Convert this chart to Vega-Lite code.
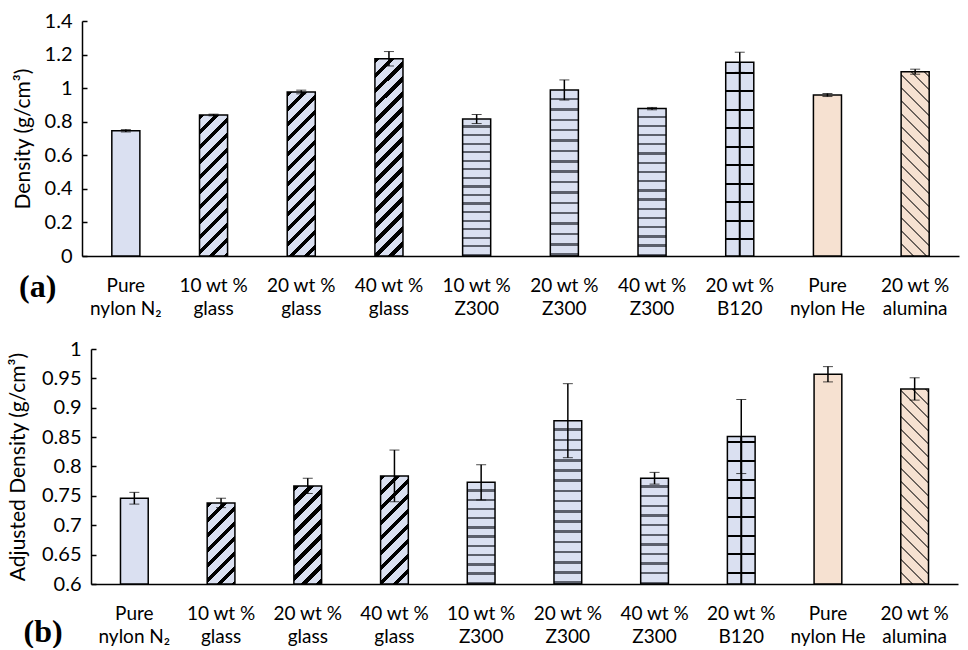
{
  "$schema": "https://vega.github.io/schema/vega-lite/v6.json",
  "padding": {"left": 7, "top": 11, "right": 3, "bottom": 0},
  "background": "white",
  "columns": 1,
  "align": "none",
  "spacing": 21,
  "config": {
    "view": {"stroke": null},
    "axis": {"labelFont": "Lato", "titleFont": "Lato", "labelColor": "#000", "titleColor": "#000", "domainColor": "#000", "tickColor": "#000", "grid": false, "titleFontWeight": "normal", "domainWidth": 1.5, "tickWidth": 1.5}
  },
  "datasets": {
    "a": [
      {"cat": "Pure|nylon N₂", "v": 0.746, "e": 0.007},
      {"cat": "10 wt %|glass", "v": 0.840, "e": 0.005},
      {"cat": "20 wt %|glass", "v": 0.977, "e": 0.011},
      {"cat": "40 wt %|glass", "v": 1.175, "e": 0.043},
      {"cat": "10 wt %|Z300", "v": 0.816, "e": 0.027},
      {"cat": "20 wt %|Z300", "v": 0.989, "e": 0.060},
      {"cat": "40 wt %|Z300", "v": 0.878, "e": 0.007},
      {"cat": "20 wt %|B120", "v": 1.154, "e": 0.060},
      {"cat": "Pure|nylon He", "v": 0.959, "e": 0.009},
      {"cat": "20 wt %|alumina", "v": 1.098, "e": 0.015}
    ],
    "b": [
      {"cat": "Pure|nylon N₂", "v": 0.746, "e": 0.010},
      {"cat": "10 wt %|glass", "v": 0.738, "e": 0.008},
      {"cat": "20 wt %|glass", "v": 0.767, "e": 0.013},
      {"cat": "40 wt %|glass", "v": 0.784, "e": 0.044},
      {"cat": "10 wt %|Z300", "v": 0.773, "e": 0.030},
      {"cat": "20 wt %|Z300", "v": 0.878, "e": 0.063},
      {"cat": "40 wt %|Z300", "v": 0.780, "e": 0.010},
      {"cat": "20 wt %|B120", "v": 0.851, "e": 0.063},
      {"cat": "Pure|nylon He", "v": 0.957, "e": 0.013},
      {"cat": "20 wt %|alumina", "v": 0.932, "e": 0.019}
    ]
  },
  "concat": [
    {
      "width": 868,
      "height": 235,
      "data": {"name": "a"},
      "title": {"text": "(a)", "orient": "bottom", "anchor": "start", "frame": "bounds", "font": "Liberation Serif", "fontWeight": "bold", "fontSize": 32, "offset": -46, "dx": 7, "color": "#000"},
      "encoding": {
        "x": {"field": "cat", "type": "nominal", "sort": null, "scale": {"paddingInner": 0.68, "paddingOuter": 0.34, "range": [-9, 868]}, "axis": {"title": null, "labelAngle": 0, "ticks": false, "labelExpr": "split(datum.label, '|')", "labelFontSize": 19, "labelLineHeight": 23, "labelPadding": 20}},
        "y": {"field": "v", "type": "quantitative", "scale": {"domain": [0, 1.4], "nice": false}, "axis": {"title": "Density (g/cm³)", "values": [0, 0.2, 0.4, 0.6, 0.8, 1, 1.2, 1.4], "format": ".1~f", "offset": 9, "tickSize": -5, "labelPadding": 15, "labelFontSize": 20, "titleFontSize": 21, "titlePadding": 11}}
      },
      "layer": [
        {
          "mark": {"type": "bar", "stroke": "#000", "strokeWidth": 1.5},
          "encoding": {
            "fill": {
              "condition": [
                {"test": "datum.cat === '10 wt %|glass'", "value": {"gradient": "linear", "x1": 0, "y1": 0, "x2": 0.2439, "y2": 1.2281, "stops": [
                  {"offset": 0, "color": "#000"}, {"offset": 0.0292, "color": "#000"}, {"offset": 0.0292, "color": "#dae0f1"}, {"offset": 0.0833, "color": "#dae0f1"},
                  {"offset": 0.0833, "color": "#000"}, {"offset": 0.1125, "color": "#000"}, {"offset": 0.1125, "color": "#dae0f1"}, {"offset": 0.1667, "color": "#dae0f1"},
                  {"offset": 0.1667, "color": "#000"}, {"offset": 0.1958, "color": "#000"}, {"offset": 0.1958, "color": "#dae0f1"}, {"offset": 0.25, "color": "#dae0f1"},
                  {"offset": 0.25, "color": "#000"}, {"offset": 0.2792, "color": "#000"}, {"offset": 0.2792, "color": "#dae0f1"}, {"offset": 0.3333, "color": "#dae0f1"},
                  {"offset": 0.3333, "color": "#000"}, {"offset": 0.3625, "color": "#000"}, {"offset": 0.3625, "color": "#dae0f1"}, {"offset": 0.4167, "color": "#dae0f1"},
                  {"offset": 0.4167, "color": "#000"}, {"offset": 0.4458, "color": "#000"}, {"offset": 0.4458, "color": "#dae0f1"}, {"offset": 0.5, "color": "#dae0f1"},
                  {"offset": 0.5, "color": "#000"}, {"offset": 0.5292, "color": "#000"}, {"offset": 0.5292, "color": "#dae0f1"}, {"offset": 0.5833, "color": "#dae0f1"},
                  {"offset": 0.5833, "color": "#000"}, {"offset": 0.6125, "color": "#000"}, {"offset": 0.6125, "color": "#dae0f1"}, {"offset": 0.6667, "color": "#dae0f1"},
                  {"offset": 0.6667, "color": "#000"}, {"offset": 0.6958, "color": "#000"}, {"offset": 0.6958, "color": "#dae0f1"}, {"offset": 0.75, "color": "#dae0f1"},
                  {"offset": 0.75, "color": "#000"}, {"offset": 0.7792, "color": "#000"}, {"offset": 0.7792, "color": "#dae0f1"}, {"offset": 0.8333, "color": "#dae0f1"},
                  {"offset": 0.8333, "color": "#000"}, {"offset": 0.8625, "color": "#000"}, {"offset": 0.8625, "color": "#dae0f1"}, {"offset": 0.9167, "color": "#dae0f1"},
                  {"offset": 0.9167, "color": "#000"}, {"offset": 0.9458, "color": "#000"}, {"offset": 0.9458, "color": "#dae0f1"}, {"offset": 1, "color": "#dae0f1"}
                ]}},
                {"test": "datum.cat === '20 wt %|glass'", "value": {"gradient": "linear", "x1": 0, "y1": 0, "x2": 0.1973, "y2": 1.1554, "stops": [
                  {"offset": 0, "color": "#000"}, {"offset": 0.0269, "color": "#000"}, {"offset": 0.0269, "color": "#dae0f1"}, {"offset": 0.0769, "color": "#dae0f1"},
                  {"offset": 0.0769, "color": "#000"}, {"offset": 0.1038, "color": "#000"}, {"offset": 0.1038, "color": "#dae0f1"}, {"offset": 0.1538, "color": "#dae0f1"},
                  {"offset": 0.1538, "color": "#000"}, {"offset": 0.1808, "color": "#000"}, {"offset": 0.1808, "color": "#dae0f1"}, {"offset": 0.2308, "color": "#dae0f1"},
                  {"offset": 0.2308, "color": "#000"}, {"offset": 0.2577, "color": "#000"}, {"offset": 0.2577, "color": "#dae0f1"}, {"offset": 0.3077, "color": "#dae0f1"},
                  {"offset": 0.3077, "color": "#000"}, {"offset": 0.3346, "color": "#000"}, {"offset": 0.3346, "color": "#dae0f1"}, {"offset": 0.3846, "color": "#dae0f1"},
                  {"offset": 0.3846, "color": "#000"}, {"offset": 0.4115, "color": "#000"}, {"offset": 0.4115, "color": "#dae0f1"}, {"offset": 0.4615, "color": "#dae0f1"},
                  {"offset": 0.4615, "color": "#000"}, {"offset": 0.4885, "color": "#000"}, {"offset": 0.4885, "color": "#dae0f1"}, {"offset": 0.5385, "color": "#dae0f1"},
                  {"offset": 0.5385, "color": "#000"}, {"offset": 0.5654, "color": "#000"}, {"offset": 0.5654, "color": "#dae0f1"}, {"offset": 0.6154, "color": "#dae0f1"},
                  {"offset": 0.6154, "color": "#000"}, {"offset": 0.6423, "color": "#000"}, {"offset": 0.6423, "color": "#dae0f1"}, {"offset": 0.6923, "color": "#dae0f1"},
                  {"offset": 0.6923, "color": "#000"}, {"offset": 0.7192, "color": "#000"}, {"offset": 0.7192, "color": "#dae0f1"}, {"offset": 0.7692, "color": "#dae0f1"},
                  {"offset": 0.7692, "color": "#000"}, {"offset": 0.7962, "color": "#000"}, {"offset": 0.7962, "color": "#dae0f1"}, {"offset": 0.8462, "color": "#dae0f1"},
                  {"offset": 0.8462, "color": "#000"}, {"offset": 0.8731, "color": "#000"}, {"offset": 0.8731, "color": "#dae0f1"}, {"offset": 0.9231, "color": "#dae0f1"},
                  {"offset": 0.9231, "color": "#000"}, {"offset": 0.95, "color": "#000"}, {"offset": 0.95, "color": "#dae0f1"}, {"offset": 1, "color": "#dae0f1"}
                ]}},
                {"test": "datum.cat === '40 wt %|glass'", "value": {"gradient": "linear", "x1": 0, "y1": 0, "x2": 0.1591, "y2": 1.1195, "stops": [
                  {"offset": 0, "color": "#000"}, {"offset": 0.0233, "color": "#000"}, {"offset": 0.0233, "color": "#dae0f1"}, {"offset": 0.0667, "color": "#dae0f1"},
                  {"offset": 0.0667, "color": "#000"}, {"offset": 0.09, "color": "#000"}, {"offset": 0.09, "color": "#dae0f1"}, {"offset": 0.1333, "color": "#dae0f1"},
                  {"offset": 0.1333, "color": "#000"}, {"offset": 0.1567, "color": "#000"}, {"offset": 0.1567, "color": "#dae0f1"}, {"offset": 0.2, "color": "#dae0f1"},
                  {"offset": 0.2, "color": "#000"}, {"offset": 0.2233, "color": "#000"}, {"offset": 0.2233, "color": "#dae0f1"}, {"offset": 0.2667, "color": "#dae0f1"},
                  {"offset": 0.2667, "color": "#000"}, {"offset": 0.29, "color": "#000"}, {"offset": 0.29, "color": "#dae0f1"}, {"offset": 0.3333, "color": "#dae0f1"},
                  {"offset": 0.3333, "color": "#000"}, {"offset": 0.3567, "color": "#000"}, {"offset": 0.3567, "color": "#dae0f1"}, {"offset": 0.4, "color": "#dae0f1"},
                  {"offset": 0.4, "color": "#000"}, {"offset": 0.4233, "color": "#000"}, {"offset": 0.4233, "color": "#dae0f1"}, {"offset": 0.4667, "color": "#dae0f1"},
                  {"offset": 0.4667, "color": "#000"}, {"offset": 0.49, "color": "#000"}, {"offset": 0.49, "color": "#dae0f1"}, {"offset": 0.5333, "color": "#dae0f1"},
                  {"offset": 0.5333, "color": "#000"}, {"offset": 0.5567, "color": "#000"}, {"offset": 0.5567, "color": "#dae0f1"}, {"offset": 0.6, "color": "#dae0f1"},
                  {"offset": 0.6, "color": "#000"}, {"offset": 0.6233, "color": "#000"}, {"offset": 0.6233, "color": "#dae0f1"}, {"offset": 0.6667, "color": "#dae0f1"},
                  {"offset": 0.6667, "color": "#000"}, {"offset": 0.69, "color": "#000"}, {"offset": 0.69, "color": "#dae0f1"}, {"offset": 0.7333, "color": "#dae0f1"},
                  {"offset": 0.7333, "color": "#000"}, {"offset": 0.7567, "color": "#000"}, {"offset": 0.7567, "color": "#dae0f1"}, {"offset": 0.8, "color": "#dae0f1"},
                  {"offset": 0.8, "color": "#000"}, {"offset": 0.8233, "color": "#000"}, {"offset": 0.8233, "color": "#dae0f1"}, {"offset": 0.8667, "color": "#dae0f1"},
                  {"offset": 0.8667, "color": "#000"}, {"offset": 0.89, "color": "#000"}, {"offset": 0.89, "color": "#dae0f1"}, {"offset": 0.9333, "color": "#dae0f1"},
                  {"offset": 0.9333, "color": "#000"}, {"offset": 0.9567, "color": "#000"}, {"offset": 0.9567, "color": "#dae0f1"}, {"offset": 1, "color": "#dae0f1"}
                ]}},
                {"test": "indexof(datum.cat, 'Z300') >= 0", "value": {"gradient": "linear", "x1": 0, "y1": 0, "x2": 0, "y2": 1, "stops": [
                  {"offset": 0, "color": "#dae0f1"}, {"offset": 0.0469, "color": "#dae0f1"}, {"offset": 0.0469, "color": "#5c606c"}, {"offset": 0.0625, "color": "#5c606c"},
                  {"offset": 0.0625, "color": "#dae0f1"}, {"offset": 0.1094, "color": "#dae0f1"}, {"offset": 0.1094, "color": "#5c606c"}, {"offset": 0.125, "color": "#5c606c"},
                  {"offset": 0.125, "color": "#dae0f1"}, {"offset": 0.1719, "color": "#dae0f1"}, {"offset": 0.1719, "color": "#5c606c"}, {"offset": 0.1875, "color": "#5c606c"},
                  {"offset": 0.1875, "color": "#dae0f1"}, {"offset": 0.2344, "color": "#dae0f1"}, {"offset": 0.2344, "color": "#5c606c"}, {"offset": 0.25, "color": "#5c606c"},
                  {"offset": 0.25, "color": "#dae0f1"}, {"offset": 0.2969, "color": "#dae0f1"}, {"offset": 0.2969, "color": "#5c606c"}, {"offset": 0.3125, "color": "#5c606c"},
                  {"offset": 0.3125, "color": "#dae0f1"}, {"offset": 0.3594, "color": "#dae0f1"}, {"offset": 0.3594, "color": "#5c606c"}, {"offset": 0.375, "color": "#5c606c"},
                  {"offset": 0.375, "color": "#dae0f1"}, {"offset": 0.4219, "color": "#dae0f1"}, {"offset": 0.4219, "color": "#5c606c"}, {"offset": 0.4375, "color": "#5c606c"},
                  {"offset": 0.4375, "color": "#dae0f1"}, {"offset": 0.4844, "color": "#dae0f1"}, {"offset": 0.4844, "color": "#5c606c"}, {"offset": 0.5, "color": "#5c606c"},
                  {"offset": 0.5, "color": "#dae0f1"}, {"offset": 0.5469, "color": "#dae0f1"}, {"offset": 0.5469, "color": "#5c606c"}, {"offset": 0.5625, "color": "#5c606c"},
                  {"offset": 0.5625, "color": "#dae0f1"}, {"offset": 0.6094, "color": "#dae0f1"}, {"offset": 0.6094, "color": "#5c606c"}, {"offset": 0.625, "color": "#5c606c"},
                  {"offset": 0.625, "color": "#dae0f1"}, {"offset": 0.6719, "color": "#dae0f1"}, {"offset": 0.6719, "color": "#5c606c"}, {"offset": 0.6875, "color": "#5c606c"},
                  {"offset": 0.6875, "color": "#dae0f1"}, {"offset": 0.7344, "color": "#dae0f1"}, {"offset": 0.7344, "color": "#5c606c"}, {"offset": 0.75, "color": "#5c606c"},
                  {"offset": 0.75, "color": "#dae0f1"}, {"offset": 0.7969, "color": "#dae0f1"}, {"offset": 0.7969, "color": "#5c606c"}, {"offset": 0.8125, "color": "#5c606c"},
                  {"offset": 0.8125, "color": "#dae0f1"}, {"offset": 0.8594, "color": "#dae0f1"}, {"offset": 0.8594, "color": "#5c606c"}, {"offset": 0.875, "color": "#5c606c"},
                  {"offset": 0.875, "color": "#dae0f1"}, {"offset": 0.9219, "color": "#dae0f1"}, {"offset": 0.9219, "color": "#5c606c"}, {"offset": 0.9375, "color": "#5c606c"},
                  {"offset": 0.9375, "color": "#dae0f1"}, {"offset": 0.9844, "color": "#dae0f1"}, {"offset": 0.9844, "color": "#5c606c"}, {"offset": 1, "color": "#5c606c"}
                ]}},
                {"test": "indexof(datum.cat, 'B120') >= 0", "value": {"gradient": "linear", "x1": 0, "y1": 0, "x2": 0, "y2": 1, "stops": [
                  {"offset": 0, "color": "#dae0f1"}, {"offset": 0.0489, "color": "#dae0f1"}, {"offset": 0.0489, "color": "#000"}, {"offset": 0.0593, "color": "#000"},
                  {"offset": 0.0593, "color": "#dae0f1"}, {"offset": 0.1443, "color": "#dae0f1"}, {"offset": 0.1443, "color": "#000"}, {"offset": 0.1547, "color": "#000"},
                  {"offset": 0.1547, "color": "#dae0f1"}, {"offset": 0.2396, "color": "#dae0f1"}, {"offset": 0.2396, "color": "#000"}, {"offset": 0.25, "color": "#000"},
                  {"offset": 0.25, "color": "#dae0f1"}, {"offset": 0.335, "color": "#dae0f1"}, {"offset": 0.335, "color": "#000"}, {"offset": 0.3454, "color": "#000"},
                  {"offset": 0.3454, "color": "#dae0f1"}, {"offset": 0.4304, "color": "#dae0f1"}, {"offset": 0.4304, "color": "#000"}, {"offset": 0.4408, "color": "#000"},
                  {"offset": 0.4408, "color": "#dae0f1"}, {"offset": 0.5257, "color": "#dae0f1"}, {"offset": 0.5257, "color": "#000"}, {"offset": 0.5361, "color": "#000"},
                  {"offset": 0.5361, "color": "#dae0f1"}, {"offset": 0.6211, "color": "#dae0f1"}, {"offset": 0.6211, "color": "#000"}, {"offset": 0.6315, "color": "#000"},
                  {"offset": 0.6315, "color": "#dae0f1"}, {"offset": 0.7164, "color": "#dae0f1"}, {"offset": 0.7164, "color": "#000"}, {"offset": 0.7268, "color": "#000"},
                  {"offset": 0.7268, "color": "#dae0f1"}, {"offset": 0.8118, "color": "#dae0f1"}, {"offset": 0.8118, "color": "#000"}, {"offset": 0.8222, "color": "#000"},
                  {"offset": 0.8222, "color": "#dae0f1"}, {"offset": 0.9072, "color": "#dae0f1"}, {"offset": 0.9072, "color": "#000"}, {"offset": 0.9176, "color": "#000"},
                  {"offset": 0.9176, "color": "#dae0f1"}, {"offset": 1, "color": "#dae0f1"}
                ]}},
                {"test": "indexof(datum.cat, 'He') >= 0", "value": "#f6e1d1"},
                {"test": "indexof(datum.cat, 'alumina') >= 0", "value": {"gradient": "linear", "x1": 0, "y1": 1, "x2": 0.1786, "y2": -0.174, "stops": [
                  {"offset": 0, "color": "#f6e1d1"}, {"offset": 0.05, "color": "#f6e1d1"}, {"offset": 0.05, "color": "#6b625c"}, {"offset": 0.0588, "color": "#6b625c"},
                  {"offset": 0.0588, "color": "#f6e1d1"}, {"offset": 0.1088, "color": "#f6e1d1"}, {"offset": 0.1088, "color": "#6b625c"}, {"offset": 0.1176, "color": "#6b625c"},
                  {"offset": 0.1176, "color": "#f6e1d1"}, {"offset": 0.1676, "color": "#f6e1d1"}, {"offset": 0.1676, "color": "#6b625c"}, {"offset": 0.1765, "color": "#6b625c"},
                  {"offset": 0.1765, "color": "#f6e1d1"}, {"offset": 0.2265, "color": "#f6e1d1"}, {"offset": 0.2265, "color": "#6b625c"}, {"offset": 0.2353, "color": "#6b625c"},
                  {"offset": 0.2353, "color": "#f6e1d1"}, {"offset": 0.2853, "color": "#f6e1d1"}, {"offset": 0.2853, "color": "#6b625c"}, {"offset": 0.2941, "color": "#6b625c"},
                  {"offset": 0.2941, "color": "#f6e1d1"}, {"offset": 0.3441, "color": "#f6e1d1"}, {"offset": 0.3441, "color": "#6b625c"}, {"offset": 0.3529, "color": "#6b625c"},
                  {"offset": 0.3529, "color": "#f6e1d1"}, {"offset": 0.4029, "color": "#f6e1d1"}, {"offset": 0.4029, "color": "#6b625c"}, {"offset": 0.4118, "color": "#6b625c"},
                  {"offset": 0.4118, "color": "#f6e1d1"}, {"offset": 0.4618, "color": "#f6e1d1"}, {"offset": 0.4618, "color": "#6b625c"}, {"offset": 0.4706, "color": "#6b625c"},
                  {"offset": 0.4706, "color": "#f6e1d1"}, {"offset": 0.5206, "color": "#f6e1d1"}, {"offset": 0.5206, "color": "#6b625c"}, {"offset": 0.5294, "color": "#6b625c"},
                  {"offset": 0.5294, "color": "#f6e1d1"}, {"offset": 0.5794, "color": "#f6e1d1"}, {"offset": 0.5794, "color": "#6b625c"}, {"offset": 0.5882, "color": "#6b625c"},
                  {"offset": 0.5882, "color": "#f6e1d1"}, {"offset": 0.6382, "color": "#f6e1d1"}, {"offset": 0.6382, "color": "#6b625c"}, {"offset": 0.6471, "color": "#6b625c"},
                  {"offset": 0.6471, "color": "#f6e1d1"}, {"offset": 0.6971, "color": "#f6e1d1"}, {"offset": 0.6971, "color": "#6b625c"}, {"offset": 0.7059, "color": "#6b625c"},
                  {"offset": 0.7059, "color": "#f6e1d1"}, {"offset": 0.7559, "color": "#f6e1d1"}, {"offset": 0.7559, "color": "#6b625c"}, {"offset": 0.7647, "color": "#6b625c"},
                  {"offset": 0.7647, "color": "#f6e1d1"}, {"offset": 0.8147, "color": "#f6e1d1"}, {"offset": 0.8147, "color": "#6b625c"}, {"offset": 0.8235, "color": "#6b625c"},
                  {"offset": 0.8235, "color": "#f6e1d1"}, {"offset": 0.8735, "color": "#f6e1d1"}, {"offset": 0.8735, "color": "#6b625c"}, {"offset": 0.8824, "color": "#6b625c"},
                  {"offset": 0.8824, "color": "#f6e1d1"}, {"offset": 0.9324, "color": "#f6e1d1"}, {"offset": 0.9324, "color": "#6b625c"}, {"offset": 0.9412, "color": "#6b625c"},
                  {"offset": 0.9412, "color": "#f6e1d1"}, {"offset": 0.9912, "color": "#f6e1d1"}, {"offset": 0.9912, "color": "#6b625c"}, {"offset": 1, "color": "#6b625c"}
                ]}}
              ],
              "value": "#dae0f1"
            }
          }
        },
        {
          "transform": [{"filter": "datum.cat === '20 wt %|B120'"}],
          "mark": {"type": "rule", "color": "#000", "strokeWidth": 2},
          "encoding": {"y2": {"datum": 0}}
        },
        {
          "mark": {"type": "errorbar", "ticks": {"size": 10, "color": "#000", "strokeWidth": 1.5}, "rule": {"color": "#000", "strokeWidth": 1.5}},
          "encoding": {"yError": {"field": "e"}}
        }
      ]
    },
    {
      "width": 867,
      "height": 235,
      "data": {"name": "b"},
      "title": {"text": "(b)", "orient": "bottom", "anchor": "start", "frame": "bounds", "font": "Liberation Serif", "fontWeight": "bold", "fontSize": 32, "offset": -29, "dx": 16, "color": "#000"},
      "encoding": {
        "x": {"field": "cat", "type": "nominal", "sort": null, "scale": {"paddingInner": 0.68, "paddingOuter": 0.34}, "axis": {"title": null, "labelAngle": 0, "ticks": false, "labelExpr": "split(datum.label, '|')", "labelFontSize": 19, "labelLineHeight": 23, "labelPadding": 20}},
        "y": {"field": "v", "type": "quantitative", "scale": {"domain": [0.6, 1], "nice": false, "zero": false}, "axis": {"title": "Adjusted Density (g/cm³)", "values": [0.6, 0.65, 0.7, 0.75, 0.8, 0.85, 0.9, 0.95, 1], "format": ".2~f", "tickSize": -5, "labelPadding": 15, "labelFontSize": 20, "titleFontSize": 21, "titlePadding": 13}}
      },
      "layer": [
        {
          "mark": {"type": "bar", "stroke": "#000", "strokeWidth": 1.5},
          "encoding": {
            "y2": {"datum": 0.6},
            "fill": {
              "condition": [
                {"test": "datum.cat === '10 wt %|glass'", "value": {"gradient": "linear", "x1": 0, "y1": 0, "x2": 0.4536, "y2": 1.3264, "stops": [
                  {"offset": 0, "color": "#000"}, {"offset": 0.0438, "color": "#000"}, {"offset": 0.0438, "color": "#dae0f1"}, {"offset": 0.125, "color": "#dae0f1"},
                  {"offset": 0.125, "color": "#000"}, {"offset": 0.1688, "color": "#000"}, {"offset": 0.1688, "color": "#dae0f1"}, {"offset": 0.25, "color": "#dae0f1"},
                  {"offset": 0.25, "color": "#000"}, {"offset": 0.2938, "color": "#000"}, {"offset": 0.2938, "color": "#dae0f1"}, {"offset": 0.375, "color": "#dae0f1"},
                  {"offset": 0.375, "color": "#000"}, {"offset": 0.4188, "color": "#000"}, {"offset": 0.4188, "color": "#dae0f1"}, {"offset": 0.5, "color": "#dae0f1"},
                  {"offset": 0.5, "color": "#000"}, {"offset": 0.5438, "color": "#000"}, {"offset": 0.5438, "color": "#dae0f1"}, {"offset": 0.625, "color": "#dae0f1"},
                  {"offset": 0.625, "color": "#000"}, {"offset": 0.6688, "color": "#000"}, {"offset": 0.6688, "color": "#dae0f1"}, {"offset": 0.75, "color": "#dae0f1"},
                  {"offset": 0.75, "color": "#000"}, {"offset": 0.7938, "color": "#000"}, {"offset": 0.7938, "color": "#dae0f1"}, {"offset": 0.875, "color": "#dae0f1"},
                  {"offset": 0.875, "color": "#000"}, {"offset": 0.9188, "color": "#000"}, {"offset": 0.9188, "color": "#dae0f1"}, {"offset": 1, "color": "#dae0f1"}
                ]}},
                {"test": "datum.cat === '20 wt %|glass'", "value": {"gradient": "linear", "x1": 0, "y1": 0, "x2": 0.3606, "y2": 1.2757, "stops": [
                  {"offset": 0, "color": "#000"}, {"offset": 0.0389, "color": "#000"}, {"offset": 0.0389, "color": "#dae0f1"}, {"offset": 0.1111, "color": "#dae0f1"},
                  {"offset": 0.1111, "color": "#000"}, {"offset": 0.15, "color": "#000"}, {"offset": 0.15, "color": "#dae0f1"}, {"offset": 0.2222, "color": "#dae0f1"},
                  {"offset": 0.2222, "color": "#000"}, {"offset": 0.2611, "color": "#000"}, {"offset": 0.2611, "color": "#dae0f1"}, {"offset": 0.3333, "color": "#dae0f1"},
                  {"offset": 0.3333, "color": "#000"}, {"offset": 0.3722, "color": "#000"}, {"offset": 0.3722, "color": "#dae0f1"}, {"offset": 0.4444, "color": "#dae0f1"},
                  {"offset": 0.4444, "color": "#000"}, {"offset": 0.4833, "color": "#000"}, {"offset": 0.4833, "color": "#dae0f1"}, {"offset": 0.5556, "color": "#dae0f1"},
                  {"offset": 0.5556, "color": "#000"}, {"offset": 0.5944, "color": "#000"}, {"offset": 0.5944, "color": "#dae0f1"}, {"offset": 0.6667, "color": "#dae0f1"},
                  {"offset": 0.6667, "color": "#000"}, {"offset": 0.7056, "color": "#000"}, {"offset": 0.7056, "color": "#dae0f1"}, {"offset": 0.7778, "color": "#dae0f1"},
                  {"offset": 0.7778, "color": "#000"}, {"offset": 0.8167, "color": "#000"}, {"offset": 0.8167, "color": "#dae0f1"}, {"offset": 0.8889, "color": "#dae0f1"},
                  {"offset": 0.8889, "color": "#000"}, {"offset": 0.9278, "color": "#000"}, {"offset": 0.9278, "color": "#dae0f1"}, {"offset": 1, "color": "#dae0f1"}
                ]}},
                {"test": "datum.cat === '40 wt %|glass'", "value": {"gradient": "linear", "x1": 0, "y1": 0, "x2": 0.3343, "y2": 1.3032, "stops": [
                  {"offset": 0, "color": "#000"}, {"offset": 0.035, "color": "#000"}, {"offset": 0.035, "color": "#dae0f1"}, {"offset": 0.1, "color": "#dae0f1"},
                  {"offset": 0.1, "color": "#000"}, {"offset": 0.135, "color": "#000"}, {"offset": 0.135, "color": "#dae0f1"}, {"offset": 0.2, "color": "#dae0f1"},
                  {"offset": 0.2, "color": "#000"}, {"offset": 0.235, "color": "#000"}, {"offset": 0.235, "color": "#dae0f1"}, {"offset": 0.3, "color": "#dae0f1"},
                  {"offset": 0.3, "color": "#000"}, {"offset": 0.335, "color": "#000"}, {"offset": 0.335, "color": "#dae0f1"}, {"offset": 0.4, "color": "#dae0f1"},
                  {"offset": 0.4, "color": "#000"}, {"offset": 0.435, "color": "#000"}, {"offset": 0.435, "color": "#dae0f1"}, {"offset": 0.5, "color": "#dae0f1"},
                  {"offset": 0.5, "color": "#000"}, {"offset": 0.535, "color": "#000"}, {"offset": 0.535, "color": "#dae0f1"}, {"offset": 0.6, "color": "#dae0f1"},
                  {"offset": 0.6, "color": "#000"}, {"offset": 0.635, "color": "#000"}, {"offset": 0.635, "color": "#dae0f1"}, {"offset": 0.7, "color": "#dae0f1"},
                  {"offset": 0.7, "color": "#000"}, {"offset": 0.735, "color": "#000"}, {"offset": 0.735, "color": "#dae0f1"}, {"offset": 0.8, "color": "#dae0f1"},
                  {"offset": 0.8, "color": "#000"}, {"offset": 0.835, "color": "#000"}, {"offset": 0.835, "color": "#dae0f1"}, {"offset": 0.9, "color": "#dae0f1"},
                  {"offset": 0.9, "color": "#000"}, {"offset": 0.935, "color": "#000"}, {"offset": 0.935, "color": "#dae0f1"}, {"offset": 1, "color": "#dae0f1"}
                ]}},
                {"test": "datum.cat === '20 wt %|Z300'", "value": {"gradient": "linear", "x1": 0, "y1": 0, "x2": 0, "y2": 1, "stops": [
                  {"offset": 0, "color": "#dae0f1"}, {"offset": 0.0469, "color": "#dae0f1"}, {"offset": 0.0469, "color": "#5c606c"}, {"offset": 0.0625, "color": "#5c606c"},
                  {"offset": 0.0625, "color": "#dae0f1"}, {"offset": 0.1094, "color": "#dae0f1"}, {"offset": 0.1094, "color": "#5c606c"}, {"offset": 0.125, "color": "#5c606c"},
                  {"offset": 0.125, "color": "#dae0f1"}, {"offset": 0.1719, "color": "#dae0f1"}, {"offset": 0.1719, "color": "#5c606c"}, {"offset": 0.1875, "color": "#5c606c"},
                  {"offset": 0.1875, "color": "#dae0f1"}, {"offset": 0.2344, "color": "#dae0f1"}, {"offset": 0.2344, "color": "#5c606c"}, {"offset": 0.25, "color": "#5c606c"},
                  {"offset": 0.25, "color": "#dae0f1"}, {"offset": 0.2969, "color": "#dae0f1"}, {"offset": 0.2969, "color": "#5c606c"}, {"offset": 0.3125, "color": "#5c606c"},
                  {"offset": 0.3125, "color": "#dae0f1"}, {"offset": 0.3594, "color": "#dae0f1"}, {"offset": 0.3594, "color": "#5c606c"}, {"offset": 0.375, "color": "#5c606c"},
                  {"offset": 0.375, "color": "#dae0f1"}, {"offset": 0.4219, "color": "#dae0f1"}, {"offset": 0.4219, "color": "#5c606c"}, {"offset": 0.4375, "color": "#5c606c"},
                  {"offset": 0.4375, "color": "#dae0f1"}, {"offset": 0.4844, "color": "#dae0f1"}, {"offset": 0.4844, "color": "#5c606c"}, {"offset": 0.5, "color": "#5c606c"},
                  {"offset": 0.5, "color": "#dae0f1"}, {"offset": 0.5469, "color": "#dae0f1"}, {"offset": 0.5469, "color": "#5c606c"}, {"offset": 0.5625, "color": "#5c606c"},
                  {"offset": 0.5625, "color": "#dae0f1"}, {"offset": 0.6094, "color": "#dae0f1"}, {"offset": 0.6094, "color": "#5c606c"}, {"offset": 0.625, "color": "#5c606c"},
                  {"offset": 0.625, "color": "#dae0f1"}, {"offset": 0.6719, "color": "#dae0f1"}, {"offset": 0.6719, "color": "#5c606c"}, {"offset": 0.6875, "color": "#5c606c"},
                  {"offset": 0.6875, "color": "#dae0f1"}, {"offset": 0.7344, "color": "#dae0f1"}, {"offset": 0.7344, "color": "#5c606c"}, {"offset": 0.75, "color": "#5c606c"},
                  {"offset": 0.75, "color": "#dae0f1"}, {"offset": 0.7969, "color": "#dae0f1"}, {"offset": 0.7969, "color": "#5c606c"}, {"offset": 0.8125, "color": "#5c606c"},
                  {"offset": 0.8125, "color": "#dae0f1"}, {"offset": 0.8594, "color": "#dae0f1"}, {"offset": 0.8594, "color": "#5c606c"}, {"offset": 0.875, "color": "#5c606c"},
                  {"offset": 0.875, "color": "#dae0f1"}, {"offset": 0.9219, "color": "#dae0f1"}, {"offset": 0.9219, "color": "#5c606c"}, {"offset": 0.9375, "color": "#5c606c"},
                  {"offset": 0.9375, "color": "#dae0f1"}, {"offset": 0.9844, "color": "#dae0f1"}, {"offset": 0.9844, "color": "#5c606c"}, {"offset": 1, "color": "#5c606c"}
                ]}},
                {"test": "indexof(datum.cat, 'Z300') >= 0", "value": {"gradient": "linear", "x1": 0, "y1": 0, "x2": 0, "y2": 1, "stops": [
                  {"offset": 0, "color": "#dae0f1"}, {"offset": 0.0682, "color": "#dae0f1"}, {"offset": 0.0682, "color": "#5c606c"}, {"offset": 0.0909, "color": "#5c606c"},
                  {"offset": 0.0909, "color": "#dae0f1"}, {"offset": 0.1591, "color": "#dae0f1"}, {"offset": 0.1591, "color": "#5c606c"}, {"offset": 0.1818, "color": "#5c606c"},
                  {"offset": 0.1818, "color": "#dae0f1"}, {"offset": 0.25, "color": "#dae0f1"}, {"offset": 0.25, "color": "#5c606c"}, {"offset": 0.2727, "color": "#5c606c"},
                  {"offset": 0.2727, "color": "#dae0f1"}, {"offset": 0.3409, "color": "#dae0f1"}, {"offset": 0.3409, "color": "#5c606c"}, {"offset": 0.3636, "color": "#5c606c"},
                  {"offset": 0.3636, "color": "#dae0f1"}, {"offset": 0.4318, "color": "#dae0f1"}, {"offset": 0.4318, "color": "#5c606c"}, {"offset": 0.4545, "color": "#5c606c"},
                  {"offset": 0.4545, "color": "#dae0f1"}, {"offset": 0.5227, "color": "#dae0f1"}, {"offset": 0.5227, "color": "#5c606c"}, {"offset": 0.5455, "color": "#5c606c"},
                  {"offset": 0.5455, "color": "#dae0f1"}, {"offset": 0.6136, "color": "#dae0f1"}, {"offset": 0.6136, "color": "#5c606c"}, {"offset": 0.6364, "color": "#5c606c"},
                  {"offset": 0.6364, "color": "#dae0f1"}, {"offset": 0.7045, "color": "#dae0f1"}, {"offset": 0.7045, "color": "#5c606c"}, {"offset": 0.7273, "color": "#5c606c"},
                  {"offset": 0.7273, "color": "#dae0f1"}, {"offset": 0.7955, "color": "#dae0f1"}, {"offset": 0.7955, "color": "#5c606c"}, {"offset": 0.8182, "color": "#5c606c"},
                  {"offset": 0.8182, "color": "#dae0f1"}, {"offset": 0.8864, "color": "#dae0f1"}, {"offset": 0.8864, "color": "#5c606c"}, {"offset": 0.9091, "color": "#5c606c"},
                  {"offset": 0.9091, "color": "#dae0f1"}, {"offset": 0.9773, "color": "#dae0f1"}, {"offset": 0.9773, "color": "#5c606c"}, {"offset": 1, "color": "#5c606c"}
                ]}},
                {"test": "indexof(datum.cat, 'B120') >= 0", "value": {"gradient": "linear", "x1": 0, "y1": 0, "x2": 0, "y2": 1, "stops": [
                  {"offset": 0, "color": "#dae0f1"}, {"offset": 0.0327, "color": "#dae0f1"}, {"offset": 0.0327, "color": "#000"}, {"offset": 0.0463, "color": "#000"},
                  {"offset": 0.0463, "color": "#dae0f1"}, {"offset": 0.1592, "color": "#dae0f1"}, {"offset": 0.1592, "color": "#000"}, {"offset": 0.1728, "color": "#000"},
                  {"offset": 0.1728, "color": "#dae0f1"}, {"offset": 0.2857, "color": "#dae0f1"}, {"offset": 0.2857, "color": "#000"}, {"offset": 0.2993, "color": "#000"},
                  {"offset": 0.2993, "color": "#dae0f1"}, {"offset": 0.4122, "color": "#dae0f1"}, {"offset": 0.4122, "color": "#000"}, {"offset": 0.4258, "color": "#000"},
                  {"offset": 0.4258, "color": "#dae0f1"}, {"offset": 0.5388, "color": "#dae0f1"}, {"offset": 0.5388, "color": "#000"}, {"offset": 0.5524, "color": "#000"},
                  {"offset": 0.5524, "color": "#dae0f1"}, {"offset": 0.6653, "color": "#dae0f1"}, {"offset": 0.6653, "color": "#000"}, {"offset": 0.6789, "color": "#000"},
                  {"offset": 0.6789, "color": "#dae0f1"}, {"offset": 0.7918, "color": "#dae0f1"}, {"offset": 0.7918, "color": "#000"}, {"offset": 0.8054, "color": "#000"},
                  {"offset": 0.8054, "color": "#dae0f1"}, {"offset": 0.9184, "color": "#dae0f1"}, {"offset": 0.9184, "color": "#000"}, {"offset": 0.932, "color": "#000"},
                  {"offset": 0.932, "color": "#dae0f1"}, {"offset": 1, "color": "#dae0f1"}
                ]}},
                {"test": "indexof(datum.cat, 'He') >= 0", "value": "#f6e1d1"},
                {"test": "indexof(datum.cat, 'alumina') >= 0", "value": {"gradient": "linear", "x1": 0, "y1": 1, "x2": 0.1671, "y2": -0.1763, "stops": [
                  {"offset": 0, "color": "#f6e1d1"}, {"offset": 0.0472, "color": "#f6e1d1"}, {"offset": 0.0472, "color": "#6b625c"}, {"offset": 0.0556, "color": "#6b625c"},
                  {"offset": 0.0556, "color": "#f6e1d1"}, {"offset": 0.1028, "color": "#f6e1d1"}, {"offset": 0.1028, "color": "#6b625c"}, {"offset": 0.1111, "color": "#6b625c"},
                  {"offset": 0.1111, "color": "#f6e1d1"}, {"offset": 0.1583, "color": "#f6e1d1"}, {"offset": 0.1583, "color": "#6b625c"}, {"offset": 0.1667, "color": "#6b625c"},
                  {"offset": 0.1667, "color": "#f6e1d1"}, {"offset": 0.2139, "color": "#f6e1d1"}, {"offset": 0.2139, "color": "#6b625c"}, {"offset": 0.2222, "color": "#6b625c"},
                  {"offset": 0.2222, "color": "#f6e1d1"}, {"offset": 0.2694, "color": "#f6e1d1"}, {"offset": 0.2694, "color": "#6b625c"}, {"offset": 0.2778, "color": "#6b625c"},
                  {"offset": 0.2778, "color": "#f6e1d1"}, {"offset": 0.325, "color": "#f6e1d1"}, {"offset": 0.325, "color": "#6b625c"}, {"offset": 0.3333, "color": "#6b625c"},
                  {"offset": 0.3333, "color": "#f6e1d1"}, {"offset": 0.3806, "color": "#f6e1d1"}, {"offset": 0.3806, "color": "#6b625c"}, {"offset": 0.3889, "color": "#6b625c"},
                  {"offset": 0.3889, "color": "#f6e1d1"}, {"offset": 0.4361, "color": "#f6e1d1"}, {"offset": 0.4361, "color": "#6b625c"}, {"offset": 0.4444, "color": "#6b625c"},
                  {"offset": 0.4444, "color": "#f6e1d1"}, {"offset": 0.4917, "color": "#f6e1d1"}, {"offset": 0.4917, "color": "#6b625c"}, {"offset": 0.5, "color": "#6b625c"},
                  {"offset": 0.5, "color": "#f6e1d1"}, {"offset": 0.5472, "color": "#f6e1d1"}, {"offset": 0.5472, "color": "#6b625c"}, {"offset": 0.5556, "color": "#6b625c"},
                  {"offset": 0.5556, "color": "#f6e1d1"}, {"offset": 0.6028, "color": "#f6e1d1"}, {"offset": 0.6028, "color": "#6b625c"}, {"offset": 0.6111, "color": "#6b625c"},
                  {"offset": 0.6111, "color": "#f6e1d1"}, {"offset": 0.6583, "color": "#f6e1d1"}, {"offset": 0.6583, "color": "#6b625c"}, {"offset": 0.6667, "color": "#6b625c"},
                  {"offset": 0.6667, "color": "#f6e1d1"}, {"offset": 0.7139, "color": "#f6e1d1"}, {"offset": 0.7139, "color": "#6b625c"}, {"offset": 0.7222, "color": "#6b625c"},
                  {"offset": 0.7222, "color": "#f6e1d1"}, {"offset": 0.7694, "color": "#f6e1d1"}, {"offset": 0.7694, "color": "#6b625c"}, {"offset": 0.7778, "color": "#6b625c"},
                  {"offset": 0.7778, "color": "#f6e1d1"}, {"offset": 0.825, "color": "#f6e1d1"}, {"offset": 0.825, "color": "#6b625c"}, {"offset": 0.8333, "color": "#6b625c"},
                  {"offset": 0.8333, "color": "#f6e1d1"}, {"offset": 0.8806, "color": "#f6e1d1"}, {"offset": 0.8806, "color": "#6b625c"}, {"offset": 0.8889, "color": "#6b625c"},
                  {"offset": 0.8889, "color": "#f6e1d1"}, {"offset": 0.9361, "color": "#f6e1d1"}, {"offset": 0.9361, "color": "#6b625c"}, {"offset": 0.9444, "color": "#6b625c"},
                  {"offset": 0.9444, "color": "#f6e1d1"}, {"offset": 0.9917, "color": "#f6e1d1"}, {"offset": 0.9917, "color": "#6b625c"}, {"offset": 1, "color": "#6b625c"}
                ]}}
              ],
              "value": "#dae0f1"
            }
          }
        },
        {
          "transform": [{"filter": "datum.cat === '20 wt %|B120'"}],
          "mark": {"type": "rule", "color": "#000", "strokeWidth": 2},
          "encoding": {"y2": {"datum": 0.6}}
        },
        {
          "mark": {"type": "errorbar", "ticks": {"size": 10, "color": "#000", "strokeWidth": 1.5}, "rule": {"color": "#000", "strokeWidth": 1.5}},
          "encoding": {"yError": {"field": "e"}}
        }
      ]
    }
  ]
}
